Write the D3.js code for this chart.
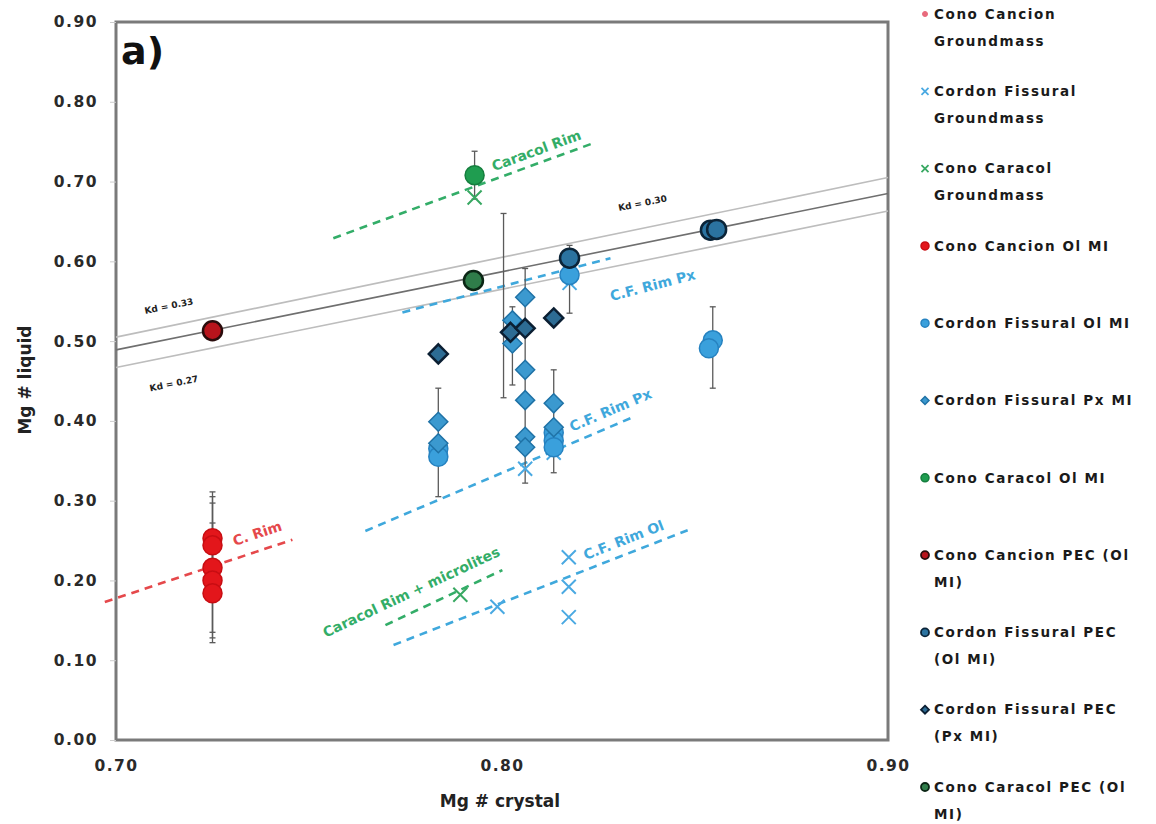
<!DOCTYPE html>
<html>
<head>
<meta charset="utf-8">
<script src="https://cdn.jsdelivr.net/npm/d3@7"></script>
<style>
  body { margin: 0; background: #fff; }
  svg text { font-family: "DejaVu Sans", Verdana, sans-serif; }
</style>
</head>
<body>
<svg id="chart" width="1156" height="824"></svg>
<script>
// axis ticks
var xTicks = [0.70, 0.80, 0.90];
var yTicks = [0.00, 0.10, 0.20, 0.30, 0.40, 0.50, 0.60, 0.70, 0.80, 0.90];

// data series, [Mg# crystal, Mg# liquid]
var canGroundmass = [];
var cfGroundmass = [[0.8173, 0.229], [0.8173, 0.192], [0.8173, 0.154], [0.7988, 0.167],
                    [0.806, 0.340], [0.8134, 0.360], [0.8175, 0.573]];
var ccGroundmass = [[0.7929, 0.680], [0.7892, 0.182]];
var canOlMI = [[0.725, 0.253], [0.725, 0.244], [0.725, 0.216], [0.725, 0.200], [0.725, 0.184]];
var cfOlMI = [[0.8546, 0.501], [0.8536, 0.491], [0.7835, 0.365], [0.7835, 0.355],
              [0.8134, 0.385], [0.8134, 0.375], [0.8134, 0.367], [0.8175, 0.583]];
var cfPxMI = [[0.7835, 0.399], [0.7835, 0.372], [0.8027, 0.526], [0.8027, 0.497],
              [0.806, 0.555], [0.806, 0.464], [0.806, 0.426], [0.806, 0.380], [0.806, 0.367],
              [0.8134, 0.422], [0.8134, 0.392]];
var ccOlMI = [[0.7929, 0.708]];
var canPEC = [[0.725, 0.513]];
var cfPECol = [[0.8175, 0.604], [0.854, 0.639], [0.8556, 0.640]];
var cfPECpx = [[0.7835, 0.484], [0.8022, 0.511], [0.806, 0.516], [0.8134, 0.529]];
var ccPEC = [[0.7926, 0.576]];

// error bars [x, low, high]
var errBars = [[0.725, 0.195, 0.311], [0.725, 0.183, 0.305], [0.725, 0.135, 0.297],
               [0.725, 0.128, 0.272], [0.725, 0.122, 0.246], [0.7929, 0.678, 0.738],
               [0.7835, 0.305, 0.441], [0.8004, 0.429, 0.660], [0.8027, 0.445, 0.543],
               [0.806, 0.322, 0.591], [0.8134, 0.335, 0.464], [0.8546, 0.441, 0.543],
               [0.8175, 0.535, 0.620]];

// Kd lines
var kdX = [0.70, 0.90];
var kdHigh = [0.505, 0.705];
var kdMid = [0.489, 0.685];
var kdLow = [0.467, 0.663];
var kdLabels = ["Kd = 0.33", "Kd = 0.27", "Kd = 0.30"];
var kdLabelAt = [[0.7137, 0.544], [0.715, 0.447], [0.8364, 0.673]];

// rim trend lines [x0, y0, x1, y1]
var rimNames = ["C. Rim", "Caracol Rim", "C.F. Rim Px", "C.F. Rim Px", "Caracol Rim + microlites", "C.F. Rim Ol"];
var rimLines = [[0.6971, 0.173, 0.7457, 0.251], [0.7563, 0.629, 0.823, 0.747],
                [0.7742, 0.536, 0.8281, 0.604], [0.7646, 0.262, 0.8341, 0.405],
                [0.7698, 0.144, 0.8001, 0.213], [0.7719, 0.119, 0.8481, 0.263]];
var rimLabelAt = [[0.7366, 0.259], [0.8089, 0.739], [0.839, 0.570], [0.8281, 0.4135],
                  [0.7765, 0.1855], [0.8315, 0.2506]];
var rimColors = ["#e5484b", "#33ad68", "#3fa8dc", "#3fa8dc", "#33ad68", "#3fa8dc"];

var legendLabels = [["Cono Cancion", "Groundmass"], ["Cordon Fissural", "Groundmass"],
                    ["Cono Caracol", "Groundmass"], ["Cono Cancion Ol MI"], ["Cordon Fissural Ol MI"],
                    ["Cordon Fissural Px MI"], ["Cono Caracol Ol MI"], ["Cono Cancion PEC (Ol", "MI)"],
                    ["Cordon Fissural PEC", "(Ol MI)"], ["Cordon Fissural PEC", "(Px MI)"],
                    ["Cono Caracol PEC (Ol", "MI)"]];

var svg = d3.select("#chart");
var x = d3.scaleLinear().domain([0.70, 0.90]).range([116, 888]);
var y = d3.scaleLinear().domain([0, 0.90]).range([740, 22]);

// series styles, in drawing order
var series = [
	{data: canGroundmass, shape: "dot",     fill: "#e86a7c", stroke: "#e86a7c", r: 3, sw: 1},
	{data: cfGroundmass,  shape: "x",       fill: "none",    stroke: "#4aa9e2", r: 7, sw: 2},
	{data: ccGroundmass,  shape: "x",       fill: "none",    stroke: "#38a862", r: 7, sw: 2},
	{data: canOlMI,       shape: "circle",  fill: "#e3161b", stroke: "#c80d12", r: 9.5, sw: 1.5},
	{data: cfOlMI,        shape: "circle",  fill: "#3aa0dc", stroke: "#2682c0", r: 9.5, sw: 1.5},
	{data: cfPxMI,        shape: "diamond", fill: "#3b99cf", stroke: "#1f72a6", r: 9.5, sw: 1.5},
	{data: ccOlMI,        shape: "circle",  fill: "#1f9d50", stroke: "#157e3e", r: 9.5, sw: 1.5},
	{data: canPEC,        shape: "circle",  fill: "#b8141c", stroke: "#2a0c0c", r: 9.5, sw: 2.5},
	{data: cfPECol,       shape: "circle",  fill: "#2b73a0", stroke: "#0b2438", r: 9.5, sw: 2.5},
	{data: cfPECpx,       shape: "diamond", fill: "#2d6c94", stroke: "#0b1f33", r: 9.5, sw: 2.5},
	{data: ccPEC,         shape: "circle",  fill: "#2f7d4a", stroke: "#0b2615", r: 9.5, sw: 2.5}
];

function drawMarker(g, s, cx, cy, r){
	if(s.shape == "circle" || s.shape == "dot"){
		g.append("circle").attr("cx", cx).attr("cy", cy).attr("r", r)
			.attr("fill", s.fill).attr("stroke", s.stroke).attr("stroke-width", s.sw);
	}
	else if(s.shape == "diamond"){
		var p = [[cx, cy - r], [cx + r, cy], [cx, cy + r], [cx - r, cy]];
		g.append("path").attr("d", "M" + p.join("L") + "Z")
			.attr("fill", s.fill).attr("stroke", s.stroke).attr("stroke-width", s.sw);
	}
	else if(s.shape == "x"){
		g.append("path")
			.attr("d", "M" + (cx - r) + "," + (cy - r) + "L" + (cx + r) + "," + (cy + r) +
			           "M" + (cx - r) + "," + (cy + r) + "L" + (cx + r) + "," + (cy - r))
			.attr("fill", "none").attr("stroke", s.stroke).attr("stroke-width", s.sw);
	}
}

// frame
svg.append("rect").attr("x", 116).attr("y", 22).attr("width", 772).attr("height", 718)
	.attr("fill", "#fff").attr("stroke", "#7a7a7a").attr("stroke-width", 3);

// axes
var yAxis = svg.append("g").attr("transform", "translate(116,0)")
	.call(d3.axisLeft(y).tickValues(yTicks).tickFormat(d3.format(".2f")).tickSize(6).tickPadding(12));
var xAxis = svg.append("g").attr("transform", "translate(0,740)")
	.call(d3.axisBottom(x).tickValues(xTicks).tickFormat(d3.format(".2f")).tickSize(0).tickPadding(20));
[yAxis, xAxis].forEach(function(a){
	a.select(".domain").remove();
	a.selectAll("line").attr("stroke", "#ccc");
	a.selectAll("text").attr("font-family", "DejaVu Sans").attr("font-size", 15.5)
		.attr("font-weight", "bold").attr("letter-spacing", 1.5).attr("fill", "#2a2a2a");
});

svg.append("text").attr("transform", "translate(31,380) rotate(-90)")
	.attr("text-anchor", "middle").attr("font-size", 17).attr("font-weight", "bold")
	.attr("fill", "#222").text("Mg # liquid");
svg.append("text").attr("x", 500).attr("y", 807)
	.attr("text-anchor", "middle").attr("font-size", 17).attr("font-weight", "bold")
	.attr("fill", "#222").text("Mg # crystal");
svg.append("text").attr("x", 121).attr("y", 64).attr("font-size", 38).attr("font-weight", "bold")
	.attr("fill", "#111").text("a)");

var plot = svg.append("g");

// Kd lines
var kdLine = d3.line().x(function(d){ return x(d[0]); }).y(function(d){ return y(d[1]); });
[[kdHigh, "#bdbdbd"], [kdMid, "#6f6f6f"], [kdLow, "#bdbdbd"]].forEach(function(k){
	plot.append("path").datum(kdX.map(function(v, i){ return [v, k[0][i]]; }))
		.attr("d", kdLine).attr("fill", "none").attr("stroke", k[1]).attr("stroke-width", 1.6);
});
var kdAngle = Math.atan2(y(kdMid[1]) - y(kdMid[0]), x(kdX[1]) - x(kdX[0])) * 180 / Math.PI;
kdLabels.forEach(function(t, i){
	plot.append("text")
		.attr("transform", "translate(" + x(kdLabelAt[i][0]) + "," + y(kdLabelAt[i][1]) + ") rotate(" + kdAngle + ")")
		.attr("text-anchor", "middle").attr("dy", "0.35em").attr("font-size", 9)
		.attr("font-weight", "bold").attr("fill", "#222").text(t);
});

// rim trend lines
rimLines.forEach(function(l, i){
	plot.append("line").attr("x1", x(l[0])).attr("y1", y(l[1])).attr("x2", x(l[2])).attr("y2", y(l[3]))
		.attr("stroke", rimColors[i]).attr("stroke-width", 2.6).attr("stroke-dasharray", "8,6");
	var ang = Math.atan2(y(l[3]) - y(l[1]), x(l[2]) - x(l[0])) * 180 / Math.PI;
	plot.append("text")
		.attr("transform", "translate(" + x(rimLabelAt[i][0]) + "," + y(rimLabelAt[i][1]) + ") rotate(" + ang + ")")
		.attr("text-anchor", "middle").attr("dy", "0.35em").attr("font-size", 14)
		.attr("font-family", "Liberation Sans").attr("font-weight", "bold")
		.attr("fill", rimColors[i]).text(rimNames[i]);
});

// error bars
errBars.forEach(function(e){
	var g = plot.append("g").attr("stroke", "#5a5a5a").attr("stroke-width", 1.3);
	g.append("line").attr("x1", x(e[0])).attr("x2", x(e[0])).attr("y1", y(e[1])).attr("y2", y(e[2]));
	[e[1], e[2]].forEach(function(v){
		g.append("line").attr("x1", x(e[0]) - 3).attr("x2", x(e[0]) + 3).attr("y1", y(v)).attr("y2", y(v));
	});
});

// points
series.forEach(function(s){
	var g = plot.append("g");
	s.data.forEach(function(d){ drawMarker(g, s, x(d[0]), y(d[1]), s.r); });
});

// legend
var legend = svg.append("g");
legendLabels.forEach(function(lines, i){
	var ly = 14 + i * 77.3;
	var s = series[i];
	drawMarker(legend, {shape: s.shape, fill: s.fill, stroke: s.stroke, sw: Math.min(s.sw, 1.8)}, 925, ly,
	           s.shape == "x" ? 3.5 : (s.shape == "dot" ? 2.5 : 4));
	lines.forEach(function(t, j){
		legend.append("text").attr("x", 934).attr("y", ly + j * 27).attr("dy", "0.35em")
			.attr("font-size", 13.5).attr("font-weight", "bold").attr("letter-spacing", 1.6)
			.attr("fill", "#1a1a1a").text(t);
	});
});
</script>
</body>
</html>
